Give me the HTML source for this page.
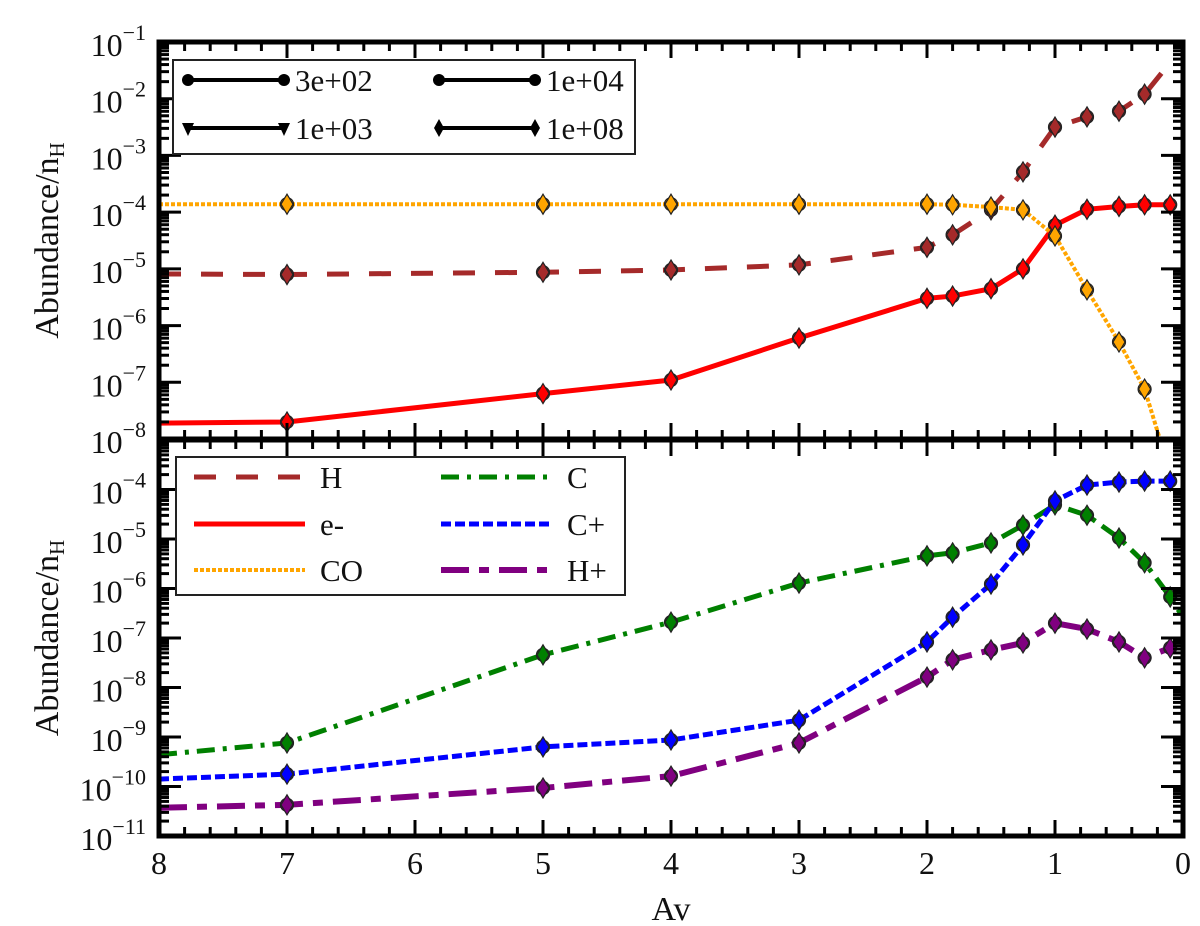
<!DOCTYPE html>
<html><head><meta charset="utf-8"><style>
html,body{margin:0;padding:0;background:#fff}
svg{display:block}
text{font-family:"Liberation Serif",serif;fill:#111}
</style></head><body>
<svg id="c" width="1200" height="926" viewBox="0 0 1200 926"></svg>
<script>
const avs = [7,5,4,3,2,1.8,1.5,1.25,1,0.75,0.5,0.3,0.1];
const hLog  = [-5.1,-5.06,-5.02,-4.93,-4.62,-4.40,-3.96,-3.29,-2.5,-2.32,-2.22,-1.92];
const eLog  = [-7.7,-7.2,-6.96,-6.22,-5.52,-5.48,-5.35,-5.0,-4.23,-3.95,-3.9,-3.87,-3.87];
const coLog = [-3.86,-3.86,-3.86,-3.86,-3.86,-3.87,-3.91,-3.96,-4.42,-5.37,-6.29,-7.12];
const cLog  = [-9.12,-7.34,-6.68,-5.89,-5.34,-5.28,-5.08,-4.72,-4.31,-4.52,-4.98,-5.48,-6.17];
const cpLog = [-9.75,-9.2,-9.06,-8.66,-7.08,-6.58,-5.91,-5.12,-4.23,-3.91,-3.85,-3.83,-3.83];
const hpLog = [-10.37,-10.03,-9.79,-9.12,-7.79,-7.44,-7.24,-7.1,-6.7,-6.82,-7.08,-7.4,-7.2];
const hStart=-5.09, hEnd=[0.15,-1.5];
const eStart=-7.72, coStart=-3.86, coEnd=[0.1,-8.6];
const cStart=-9.36, cEnd=[0.02,-6.5], cpStart=-9.85, hpStart=-10.43;
const xTicks=[8,7,6,5,4,3,2,1,0];
const topTicks=[-1,-2,-3,-4,-5,-6,-7,-8];
const botTicks=[-4,-5,-6,-7,-8,-9,-10,-11];

const NS="http://www.w3.org/2000/svg";
const svg=document.getElementById('c');
function el(tag,attrs,parent){const e=document.createElementNS(NS,tag);for(const k in attrs)e.setAttribute(k,attrs[k]);(parent||svg).appendChild(e);return e;}
const X0=159,X1=1183;
const xs=v=>X0+(8-v)*(X1-X0)/8;
const pTop={y0:42,y1:439,lmax:-1,lmin:-8};
const pBot={y0:440,y1:836,lmax:-3,lmin:-11};
const ys=(p,l)=>p.y0+(p.lmax-l)*(p.y1-p.y0)/(p.lmax-p.lmin);

function clip(id,p){const cp=el('clipPath',{id:id});el('rect',{x:X0,y:p.y0,width:X1-X0,height:p.y1-p.y0},cp);}
clip('ct',pTop);clip('cb',pBot);

function series(p,cid,name,color,dash,start,vals,end,w){
  const g=el('g',{'clip-path':'url(#'+cid+')'});
  
  
  const pts=[[xs(8),ys(p,start)]];
  vals.forEach((v,i)=>pts.push([xs(avs[i]),ys(p,v)]));
  if(end)pts.push([xs(end[0]),ys(p,end[1])]);
  const ln=el('polyline',{points:pts.map(q=>q.join(',')).join(' '),fill:'none',stroke:color,'stroke-width':w||5,'stroke-dasharray':dash},g);
  
  
  vals.forEach((v,i)=>{
    const x=xs(avs[i]),y=ys(p,v);
    const m=el('g',{},g);
    
    
    el('circle',{cx:x,cy:y,r:6.5,fill:color,stroke:'#222','stroke-width':1.2},m);
    el('polygon',{points:`${x},${y-10} ${x+6},${y} ${x},${y+10} ${x-6},${y}`,fill:color,stroke:'#222','stroke-width':1.2},m);
  });
}
series(pTop,'ct','h','#a52a2a','22 20',hStart,hLog,hEnd);
series(pTop,'ct','e','#ff0000','',eStart,eLog,null);
series(pTop,'ct','co','#ffa500','4 2',coStart,coLog,coEnd,4);
series(pBot,'cb','c','#008000','18 8 4 8',cStart,cLog,cEnd);
series(pBot,'cb','cplus','#0000ff','10 4',cpStart,cpLog,null);
series(pBot,'cb','hplus','#800080','28 10 10 10',hpStart,hpLog,null,6);

function axes(p,ticks,name,showX){
  const g=el('g',{});
  
  
  for(let i=0;i<=40;i++){
    const v=i*0.2;
    const x=xs(v);const maj=i%5==0;const L=maj?16:9;
    el('line',{x1:x,y1:p.y0,x2:x,y2:p.y0+L,stroke:'#000','stroke-width':3},g);
    el('line',{x1:x,y1:p.y1,x2:x,y2:p.y1-L,stroke:'#000','stroke-width':3},g);
  }
  for(let d=p.lmin;d<p.lmax;d++){
    for(let k=1;k<10;k++){
      const l=d+Math.log10(k);const y=ys(p,l);const L=k==1?22:10;
      el('line',{x1:X0,y1:y,x2:X0+L,y2:y,stroke:'#000','stroke-width':3},g);
      el('line',{x1:X1,y1:y,x2:X1-L,y2:y,stroke:'#000','stroke-width':3},g);
    }
  }
  el('rect',{x:X0,y:p.y0,width:X1-X0,height:p.y1-p.y0,fill:'none',stroke:'#000','stroke-width':5},g);
  ticks.forEach(t=>{
    const y=ys(p,t);
    const tx=el('text',{x:146,y:y+14,'text-anchor':'end','font-size':32},g);
    
    
    const a=el('tspan',{},tx);a.textContent='10';
    const b=el('tspan',{dy:-16,'font-size':22},tx);b.textContent='\u2212'+(-t);
  });
  const yl=el('text',{transform:`translate(58,${(p.y0+p.y1)/2}) rotate(-90)`,'text-anchor':'middle','font-size':34},g);
  
  
  const s1=el('tspan',{},yl);s1.textContent='Abundance/n';
  const s2=el('tspan',{dy:6,'font-size':21},yl);s2.textContent='H';
  if(showX){
    xTicks.forEach(v=>{
      const t=el('text',{x:xs(v),y:874,'text-anchor':'middle','font-size':32},g);
      
      
      t.textContent=v;
    });
    const xl=el('text',{x:xs(4),y:920,'text-anchor':'middle','font-size':34},g);
    
    
    xl.textContent='Av';
  }
}
axes(pTop,topTicks,'top',false);
axes(pBot,botTicks,'bottom',true);

const lg1=el('g',{});


el('rect',{x:173,y:60,width:462,height:94,fill:'#fff',stroke:'#222','stroke-width':2},lg1);
[[188,80,'circle','3e+02'],[188,128,'tri','1e+03'],[439,80,'circle','1e+04'],[439,128,'diamond','1e+08']].forEach(([x,y,m,lab])=>{
  const e=el('g',{},lg1);
  
  
  el('line',{x1:x,y1:y,x2:x+96,y2:y,stroke:'#000','stroke-width':4},e);
  [x,x+96].forEach(mx=>{
    if(m=='circle')el('circle',{cx:mx,cy:y,r:6,fill:'#000'},e);
    else if(m=='tri')el('polygon',{points:`${mx-6},${y-5} ${mx+6},${y-5} ${mx},${y+8}`,fill:'#000'},e);
    else el('polygon',{points:`${mx},${y-9} ${mx+5},${y} ${mx},${y+9} ${mx-5},${y}`,fill:'#000'},e);
  });
  const t=el('text',{x:x+107,y:y+11,'font-size':31},e);t.textContent=lab;
});

const lg2=el('g',{});


el('rect',{x:176,y:457,width:449,height:138,fill:'#fff',stroke:'#222','stroke-width':2},lg2);
[[194,477,'#a52a2a','22 20',5,'H'],[194,524,'#ff0000','',5,'e-'],[194,570,'#ffa500','4 2',4,'CO'],
 [441,477,'#008000','18 8 4 8',5,'C'],[441,524,'#0000ff','10 4',5,'C+'],[441,570,'#800080','28 10 10 10',6,'H+']].forEach(([x,y,c,d,w,lab])=>{
  const e=el('g',{},lg2);
  
  
  el('line',{x1:x,y1:y,x2:x+111,y2:y,stroke:c,'stroke-width':w,'stroke-dasharray':d},e);
  const t=el('text',{x:x+126,y:y+11,'font-size':31},e);t.textContent=lab;
});
</script>
</body></html>
